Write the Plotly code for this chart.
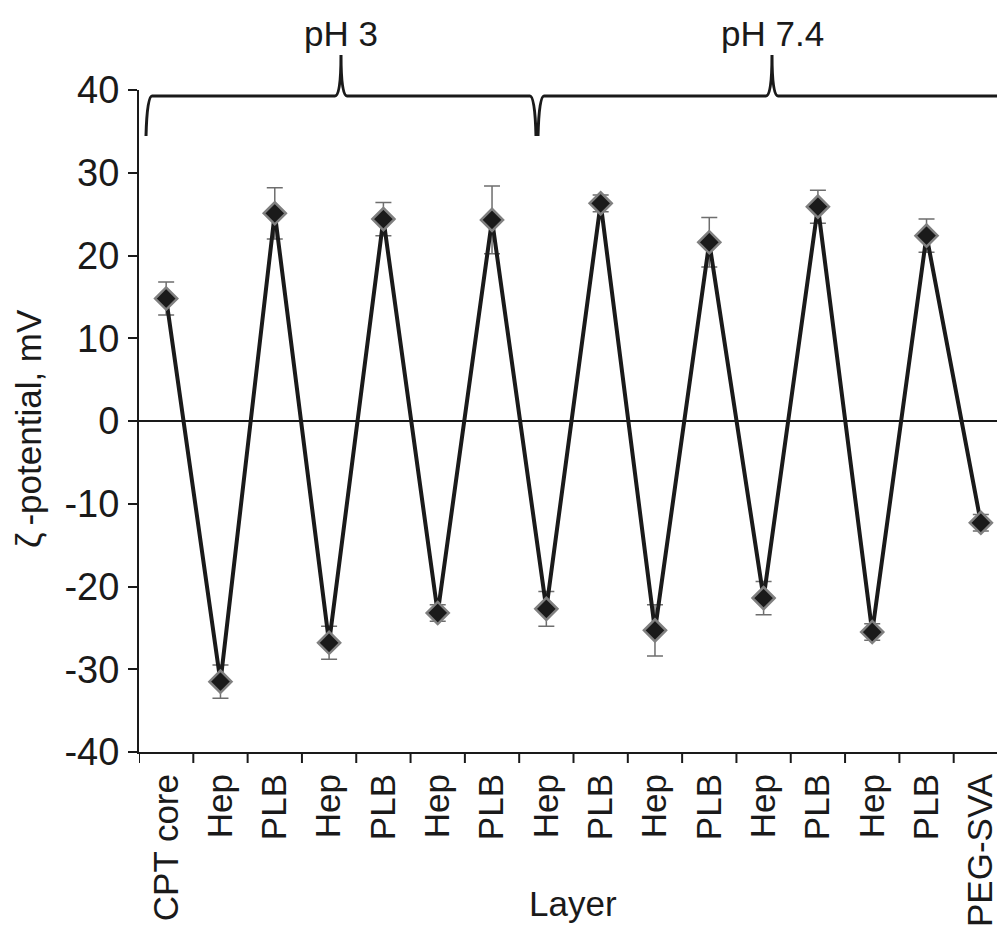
import plotly.graph_objects as go

layers = ["CPT core", "Hep", "PLB", "Hep", "PLB", "Hep", "PLB", "Hep",
          "PLB", "Hep", "PLB", "Hep", "PLB", "Hep", "PLB", "PEG-SVA"]
zeta = [14.8, -31.5, 25.1, -26.8, 24.4, -23.2, 24.3, -22.7,
        26.3, -25.3, 21.6, -21.4, 25.9, -25.5, 22.4, -12.3]
zeta_err = [2.0, 2.0, 3.1, 2.0, 2.0, 1.0, 4.1, 2.1,
            1.0, 3.1, 3.0, 2.0, 2.0, 1.0, 2.0, 1.0]
groups = ["pH 3", "pH 7.4"]
y_ticks = [-40, -30, -20, -10, 0, 10, 20, 30, 40]
y_ticktext = ["-40", "-30", "-20", "-10", "0", "10", "20", "30", "40"]

FONT = "Liberation Sans, Arial, Helvetica, sans-serif"
INK = "#1a1a1a"
W, H = 1005, 936
BODY = 8  # default page margin of the html body
# plot area in screen pixels (as in the reference)
SX0, SX1, SY0, SY1 = 139, 1008, 90, 752
L = SX0 - BODY
T = SY0 - BODY
R = (W + BODY) - SX1
B = (H + BODY) - SY1
pw, ph = SX1 - SX0, SY1 - SY0

x_idx = list(range(len(layers)))


def px2paper(sx, sy):
    return (sx - SX0) / pw, (SY1 - sy) / ph


fig = go.Figure()
fig.add_trace(go.Scatter(
    x=x_idx, y=zeta,
    mode="lines+markers",
    line=dict(color=INK, width=4),
    marker=dict(symbol="diamond", size=17, color=INK,
                line=dict(color="#808080", width=2.5)),
    error_y=dict(type="data", array=zeta_err, visible=True,
                 color="#6e6e6e", thickness=1.5, width=8),
    showlegend=False,
))


def brace(x0, x1, xm, yb, ym, yt):
    d = 6

    def P(x, y):
        a, b = px2paper(x, y)
        return f"{a:.5f},{b:.5f}"
    return (f"M {P(x0, yb)} Q {P(x0 + 1, ym)} {P(x0 + d, ym)} "
            f"L {P(xm - d, ym)} Q {P(xm, ym)} {P(xm, yt)} "
            f"Q {P(xm, ym)} {P(xm + d, ym)} "
            f"L {P(x1 - d, ym)} Q {P(x1 - 1, ym)} {P(x1, yb)}")


brace_specs = [(146, 536, 341), (538, 1003, 772)]
for (x0, x1, xm), label in zip(brace_specs, groups):
    fig.add_shape(type="path", xref="paper", yref="paper",
                  path=brace(x0, x1, xm, 136, 96, 55),
                  line=dict(color=INK, width=3))
    ax, ay = px2paper(xm, 33)
    fig.add_annotation(x=ax, y=ay, xref="paper", yref="paper",
                       text=label, showarrow=False,
                       font=dict(family=FONT, size=35, color=INK),
                       xanchor="center", yanchor="middle")

# axis titles
ax, ay = px2paper(573, 903)
fig.add_annotation(x=ax, y=ay, xref="paper", yref="paper", text="Layer",
                   showarrow=False, font=dict(family=FONT, size=35, color=INK),
                   xanchor="center", yanchor="middle")
ax, ay = px2paper(28, 428)
fig.add_annotation(x=ax, y=ay, xref="paper", yref="paper",
                   text="ζ\u2009-potential, mV", textangle=-90,
                   showarrow=False, font=dict(family=FONT, size=35, color=INK),
                   xanchor="center", yanchor="middle")

fig.update_xaxes(
    type="linear",
    range=[-0.5, 15.5],
    tickmode="array",
    tickvals=x_idx,
    ticktext=layers,
    tickangle=-90,
    ticks="",
    ticklabelstandoff=6,
    showline=True, linecolor=INK, linewidth=2,
    showgrid=False, zeroline=False,
    tickfont=dict(family=FONT, size=35, color=INK),
)
# boundary ticks between categories
for k in range(len(layers)):
    fig.add_shape(type="line", xref="x", yref="paper",
                  x0=k - 0.5, x1=k - 0.5, y0=0, y1=-11 / ph,
                  line=dict(color=INK, width=2))

fig.update_yaxes(
    range=[-40, 40],
    tickmode="array",
    tickvals=y_ticks,
    ticktext=y_ticktext,
    ticks="outside", ticklen=9, tickwidth=2, tickcolor=INK,
    ticklabelstandoff=1,
    showline=True, linecolor=INK, linewidth=2,
    showgrid=False,
    zeroline=True, zerolinecolor=INK, zerolinewidth=2,
    tickfont=dict(family=FONT, size=38, color=INK),
)

fig.update_layout(
    width=W, height=H,
    margin=dict(l=L, r=R, t=T, b=B, pad=0),
    plot_bgcolor="white", paper_bgcolor="white",
)

fig.write_html("out.html")
